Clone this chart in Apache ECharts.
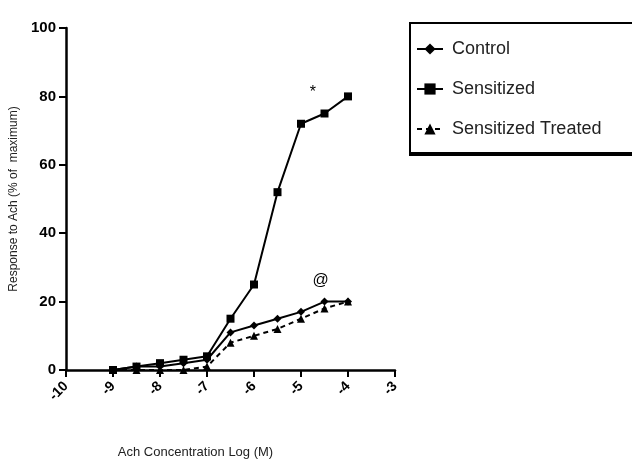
<!DOCTYPE html>
<html><head><meta charset="utf-8">
<script src="https://cdn.jsdelivr.net/npm/echarts@6/dist/echarts.min.js"></script>
<style>html,body{margin:0;padding:0;background:#fff}#c{width:632px;height:461px}</style>
</head><body><div id="c"></div>
<script>
var logConc = [-9, -8.5, -8, -7.5, -7, -6.5, -6, -5.5, -5, -4.5, -4];
var control = [0, 1, 1, 2, 3, 11, 13, 15, 17, 20, 20];
var sensitized = [0, 1, 2, 3, 4, 15, 25, 52, 72, 75, 80];
var treated = [0, 0, 0, 0, 1, 8, 10, 12, 15, 18, 20];
var yTicks = [0, 20, 40, 60, 80, 100];
var xTicks = [-10, -9, -8, -7, -6, -5, -4, -3];
var notes = [{ text: '*', x: -4.75, y: 81 }, { text: '@', x: -4.58, y: 26 }];

function pairs(v) { return logConc.map(function (x, i) { return [x, v[i]]; }); }
var font = "'Liberation Sans Narrow', 'Liberation Sans', Arial, sans-serif";

var chart = echarts.init(document.getElementById('c'));
chart.setOption({
  animation: false,
  grid: { left: 66, right: 237, top: 28, bottom: 91, containLabel: false, outerBoundsMode: 'none' },
  graphic: [
    { type: 'rect', left: 409, top: 22, shape: { width: 240, height: 132 },
      style: { fill: '#fff', stroke: '#000', lineWidth: 2 }, z: 0 },
    { type: 'rect', left: 410, top: 152, shape: { width: 240, height: 4 },
      style: { fill: '#000' }, z: 0 }
  ],
  xAxis: {
    type: 'value', min: xTicks[0], max: xTicks[xTicks.length - 1], interval: 1,
    name: 'Ach Concentration Log (M)', nameLocation: 'middle', nameGap: 76,
    nameTextStyle: { fontFamily: font, fontSize: 13, color: '#222', padding: [0, 70, 0, 0] },
    axisLine: { lineStyle: { color: '#000', width: 2.5 } },
    axisTick: { show: true, length: 7, lineStyle: { color: '#000', width: 2 } },
    axisLabel: { rotate: 45, margin: 14, fontFamily: font, fontWeight: 'bold', fontSize: 14, color: '#000' },
    splitLine: { show: false }
  },
  yAxis: {
    type: 'value', min: yTicks[0], max: yTicks[yTicks.length - 1], interval: 20,
    name: 'Response to Ach (% of  maximum)', nameLocation: 'middle', nameGap: 40,
    nameTextStyle: { fontFamily: font, fontSize: 12, color: '#222' },
    axisLine: { show: true, lineStyle: { color: '#000', width: 2.5 } },
    axisTick: { show: true, length: 7, lineStyle: { color: '#000', width: 2 } },
    axisLabel: { margin: 10, fontFamily: font, fontWeight: 'bold', fontSize: 15, color: '#000' },
    splitLine: { show: false }
  },
  legend: {
    orient: 'vertical', left: 408, top: 24, z: 5,
    padding: [16, 80, 16, 8], itemGap: 22, itemWidth: 26, itemHeight: 14,
    textStyle: { fontFamily: font, fontSize: 18, color: '#222', padding: [0, 0, 0, 4] },
    data: ['Control', 'Sensitized', 'Sensitized Treated']
  },
  series: [
    {
      name: 'Control', type: 'line', data: pairs(control),
      symbol: 'diamond', symbolSize: 8, color: '#000',
      lineStyle: { color: '#000', width: 2 }, itemStyle: { color: '#000' }
    },
    {
      name: 'Sensitized', type: 'line', data: pairs(sensitized),
      symbol: 'rect', symbolSize: 8, color: '#000',
      lineStyle: { color: '#000', width: 2 }, itemStyle: { color: '#000' },
      markPoint: {
        symbol: 'circle', symbolSize: 1, itemStyle: { color: 'transparent' },
        label: { show: true, color: '#000', fontSize: 16, fontFamily: font, formatter: '{b}' },
        data: notes.map(function (n) { return { name: n.text, coord: [n.x, n.y] }; })
      }
    },
    {
      name: 'Sensitized Treated', type: 'line', data: pairs(treated),
      symbol: 'triangle', symbolSize: 8, color: '#000',
      lineStyle: { color: '#000', width: 2, type: [5, 4] }, itemStyle: { color: '#000' }
    }
  ]
});
</script></body></html>
